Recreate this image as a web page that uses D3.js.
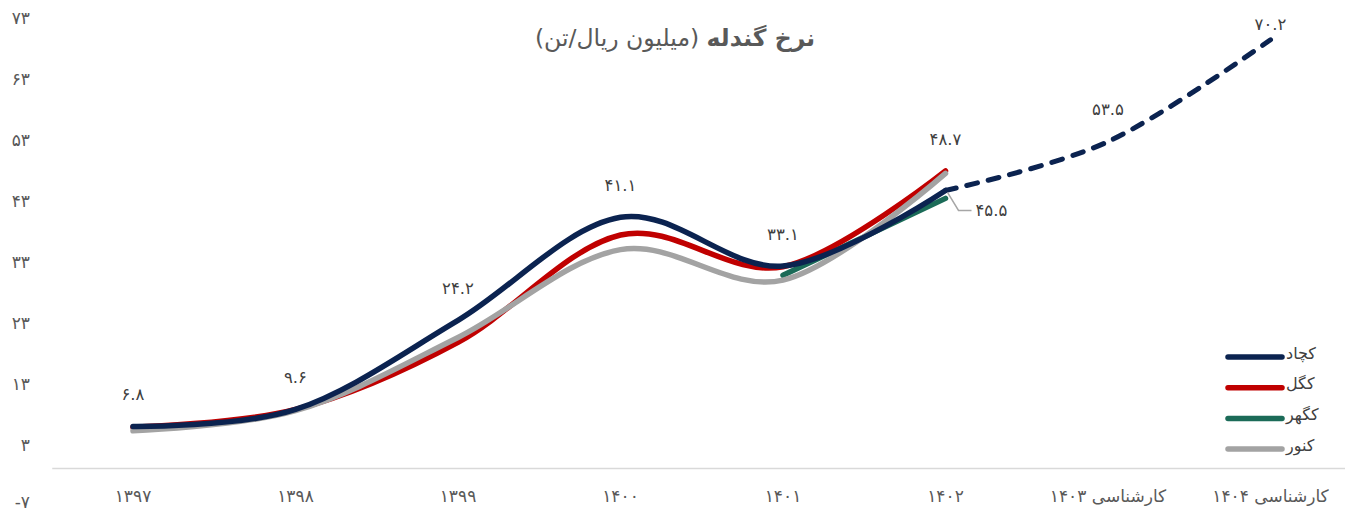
<!DOCTYPE html>
<html>
<head>
<meta charset="utf-8">
<script src="https://cdn.jsdelivr.net/npm/d3@7"></script>
<style>
	body { margin: 0; background: #fff; }
	text { font-family: "DejaVu Sans", sans-serif; }
</style>
</head>
<body>
<div id="chart-area"></div>
<script>
// chart data
let years = ["۱۳۹۷", "۱۳۹۸", "۱۳۹۹", "۱۴۰۰", "۱۴۰۱", "۱۴۰۲", "کارشناسی ۱۴۰۳", "کارشناسی ۱۴۰۴"];
let seriesNames = ["کچاد", "کگل", "کگهر", "کنور"];
let kachad = [6.8, 9.6, 24.2, 41.1, 33.1, 45.5];
let kagol = [6.7, 9.6, 20.6, 38.2, 33.0, 48.7];
let kagohar = [null, null, null, null, 31.6, 44.2];
let kanoor = [6.1, 9.4, 21.4, 35.8, 30.8, 48.3];
let forecast = [null, null, null, null, null, 45.5, 53.5, 70.2];
let yTicks = [-7, 3, 13, 23, 33, 43, 53, 63, 73];

let colors = {"کچاد": "#0b2350", "کگل": "#c00000", "کگهر": "#1b6b58", "کنور": "#a3a3a3"};

let width = 1345, height = 512;

let svg = d3.select("#chart-area").append("svg")
	.attr("width", width)
	.attr("height", height);

// persian digits
function fa(v) {
	return String(v).replace(/\d/g, c => "۰۱۲۳۴۵۶۷۸۹"[+c]);
}

// scales
let x = d3.scaleBand()
	.domain(years)
	.range([51.75, 1351.75]);

let y = d3.scaleLinear()
	.domain([-7, 73])
	.range([510.7, 22.7]);

let cx = d => x(d) + x.bandwidth() / 2;

// title
let title = svg.append("text")
	.attr("x", 675)
	.attr("y", 46)
	.attr("text-anchor", "middle")
	.attr("direction", "rtl")
	.attr("fill", "#595959")
	.style("font-size", "23.5px");
title.append("tspan").attr("font-weight", "bold").text("نرخ گندله");
title.append("tspan").text(" (میلیون ریال/تن)");

// y axis labels (no line)
let yAxis = svg.append("g")
	.attr("transform", "translate(30,0)")
	.call(d3.axisLeft(y).tickValues(yTicks).tickSize(0).tickPadding(0).tickFormat(fa));
yAxis.select(".domain").remove();
yAxis.selectAll("text")
	.attr("dy", d => d < 0 ? "-0.2em" : "0.05em")  // keep the bottom label inside the frame
	.attr("fill", "#595959")
	.style("font-family", "DejaVu Sans")
	.style("font-size", "17px");

// x axis
let xAxis = svg.append("g")
	.attr("transform", "translate(0," + y(0) + ")")
	.call(d3.axisBottom(x).tickSize(0).tickPadding(22));
xAxis.select(".domain")
	.attr("stroke", "#d9d9d9")
	.attr("stroke-width", 1.5);
xAxis.selectAll("text")
	.attr("direction", "rtl")
	.attr("fill", "#595959")
	.style("font-family", "DejaVu Sans")
	.style("font-size", "17px");

// lines
let line = d3.line()
	.defined(d => d.v != null)
	.x(d => cx(d.c))
	.y(d => y(d.v))
	.curve(d3.curveCardinal.tension(0));

let toPts = arr => arr.map((v, i) => ({c: years[i], v: v}));

let drawOrder = [["کگهر", kagohar], ["کگل", kagol], ["کنور", kanoor], ["کچاد", kachad]];

drawOrder.forEach(s => {
	svg.append("path")
		.datum(toPts(s[1]))
		.attr("fill", "none")
		.attr("stroke", colors[s[0]])
		.attr("stroke-width", 5.5)
		.attr("stroke-linecap", "round")
		.attr("d", line);
});

// forecast dashed
svg.append("path")
	.datum(toPts(forecast).filter(d => d.v != null))
	.attr("fill", "none")
	.attr("stroke", colors["کچاد"])
	.attr("stroke-width", 5)
	.attr("stroke-linecap", "round")
	.attr("stroke-dasharray", "11,11")
	.attr("d", line);

// data labels
let labels = [
	{c: years[0], v: 6.8},
	{c: years[1], v: 9.6},
	{c: years[2], v: 24.2},
	{c: years[3], v: 41.1},
	{c: years[4], v: 33.1},
	{c: years[5], v: 48.7},
	{c: years[6], v: 53.5},
	{c: years[7], v: 70.2}
];

svg.selectAll(".data-label")
	.data(labels)
	.enter()
	.append("text")
	.attr("class", "data-label")
	.attr("x", d => cx(d.c))
	.attr("y", d => Math.max(y(d.v) - 32, 24))
	.attr("dy", "0.35em")
	.attr("text-anchor", "middle")
	.attr("fill", "#404040")
	.style("font-size", "16.5px")
	.text(d => fa(d.v));

// callout for kachad 1402
let px = cx(years[5]), py = y(kachad[5]);
svg.append("polyline")
	.attr("points", [[px + 2, py + 2], [px + 13, py + 20], [px + 26, py + 20]].map(p => p.join(",")).join(" "))
	.attr("fill", "none")
	.attr("stroke", "#a6a6a6")
	.attr("stroke-width", 1.5);
svg.append("text")
	.attr("x", px + 30)
	.attr("y", py + 20)
	.attr("dy", "0.35em")
	.attr("fill", "#404040")
	.style("font-size", "16.5px")
	.text(fa(kachad[5]));

// legend
let legend = svg.selectAll(".legend")
	.data(seriesNames)
	.enter()
	.append("g")
	.attr("class", "legend")
	.attr("transform", (d, i) => "translate(1228," + (357 + i * 30.7) + ")");

legend.append("line")
	.attr("x1", 0)
	.attr("x2", 54)
	.attr("stroke", d => colors[d])
	.attr("stroke-width", 5.5)
	.attr("stroke-linecap", "round");

legend.append("text")
	.attr("x", 58)
	.attr("dy", "0.1em")
	.attr("fill", "#404040")
	.style("font-size", "16px")
	.text(d => d);
</script>
</body>
</html>
